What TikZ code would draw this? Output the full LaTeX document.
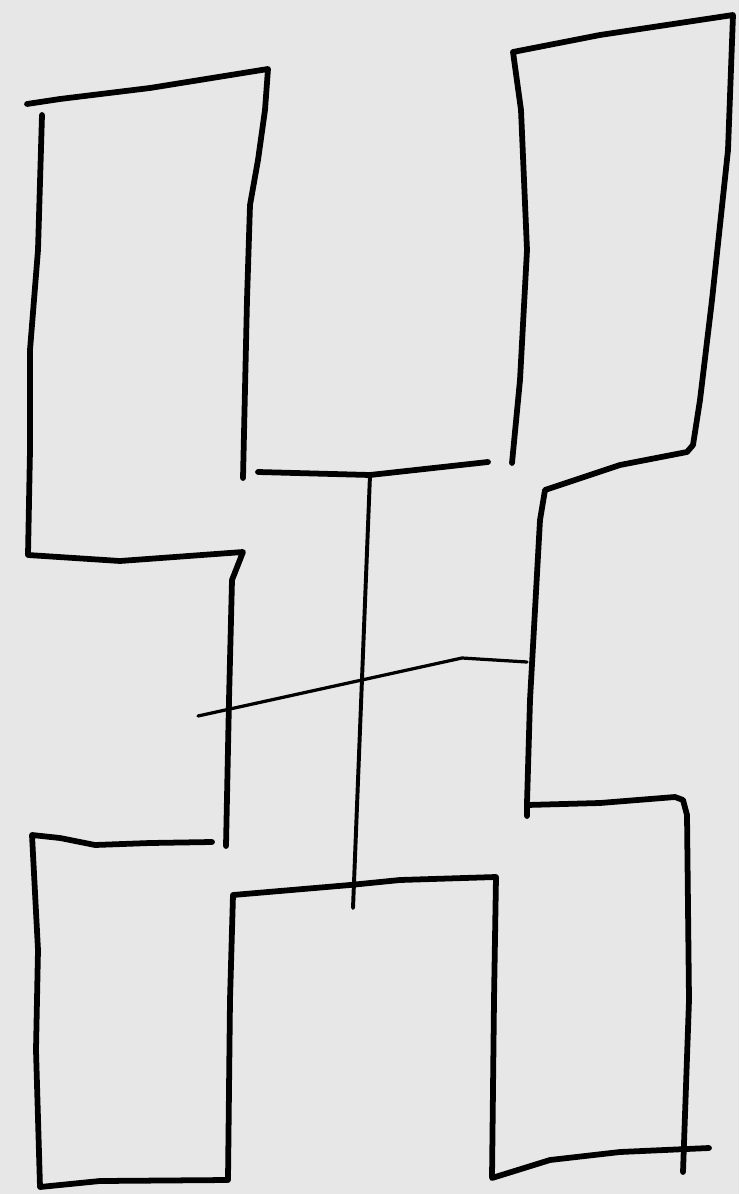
\documentclass[tikz,border=0pt]{standalone}
\usepackage{tikz}
\usetikzlibrary{positioning,calc}
\usepackage{xcolor}
\definecolor{paper}{gray}{0.905}

\tikzset{
  pen/.style={line width=4.1pt, line join=round, line cap=round},
  wire/.style={line width=2.8pt, line join=round, line cap=round}
}

\begin{document}
\begin{tikzpicture}[x=0.025cm,y=-0.025cm]
  \fill[paper] (0,0) rectangle (739,1194);
  \useasboundingbox (0,0) rectangle (739,1194);
  % top left box
  \draw[pen] (27,104) -- (60,99) -- (150,88) -- (268,69) -- (265,110) -- (258,160)
    -- (250,205) -- (247,300) -- (243,478);
  \draw[pen] (42,115) -- (38,250) -- (30,350) -- (30,450) -- (28,555) -- (120,561)
    -- (243,552) -- (232,580) -- (229,700) -- (226,846);
  % lower left and lower middle boxes
  \draw[pen] (212,842) -- (150,843) -- (95,845) -- (60,838) -- (32,835) -- (38,950)
    -- (36,1050) -- (40,1187) -- (100,1181) -- (228,1180) -- (230,1000) -- (233,895)
    -- (350,885) -- (400,880) -- (496,877) -- (494,1000) -- (492,1178) -- (550,1160)
    -- (620,1152) -- (709,1148);
  % right column
  \draw[pen] (512,463) -- (520,380) -- (527,250) -- (521,110) -- (513,52) -- (600,35)
    -- (733,15) -- (728,150) -- (712,300) -- (700,400) -- (693,445) -- (687,452)
    -- (620,465) -- (545,490) -- (540,520) -- (530,700) -- (527,803) -- (527,816);
  \draw[pen] (527,805) -- (600,803) -- (675,797) -- (683,800) -- (687,815) -- (689,1000)
    -- (683,1172);
  % middle bar
  \coordinate (hubT) at (370,475);
  \coordinate (hubB) at (353,908);
  \draw[pen] (258,472) -- (hubT) -- (488,462);
  \draw[wire] (hubT) -- (hubB);
  % slanted link
  \coordinate (tailL) at (198,716);
  \coordinate (kink) at (462,658);
  \coordinate (tailR) at (527,662);
  \draw[wire,line width=2.3pt] (tailL) -- (kink) -- (tailR);
\end{tikzpicture}
\end{document}
